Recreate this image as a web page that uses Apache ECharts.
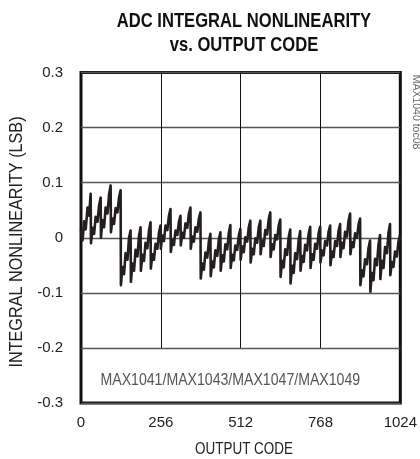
<!DOCTYPE html>
<html><head><meta charset="utf-8">
<script src="https://cdn.jsdelivr.net/npm/echarts@6/dist/echarts.min.js"></script>
<style>html,body{margin:0;padding:0;background:#fff}#c{width:420px;height:459px}</style>
</head><body><div id="c"></div>
<script>
const titleLine1 = 'ADC INTEGRAL NONLINEARITY';
const titleLine2 = 'vs. OUTPUT CODE';
const xAxisName = 'OUTPUT CODE';
const yAxisName = 'INTEGRAL NONLINEARITY (LSB)';
const partLabel = 'MAX1041/MAX1043/MAX1047/MAX1049';
const docId = 'MAX1040 toc08';
const xTickValues = [0, 256, 512, 768, 1024];
const yTickValues = [-0.3, -0.2, -0.1, 0, 0.1, 0.2, 0.3];
const codesPerTooth = 32;
const toothOffsets = [0, 5, 10, 15, 21, 26, 31];
// INL readings (LSB), 7 per 32-code tooth
const inlQ1 = [
  0.015, -0.005, 0.030, 0.015, 0.055, 0.040, 0.080,
  -0.010, 0.018, 0.007, 0.038, 0.029, 0.059, 0.073,
  0.000, 0.032, 0.019, 0.055, 0.044, 0.079, 0.095,
  0.010, 0.035, 0.025, 0.054, 0.046, 0.073, 0.086,
  -0.086, -0.053, -0.066, -0.028, -0.040, 0.000, 0.013,
  -0.080, -0.047, -0.060, -0.022, -0.034, 0.003, 0.019,
  -0.060, -0.031, -0.042, -0.009, -0.019, 0.013, 0.028,
  -0.056, -0.030, -0.040, -0.011, -0.020, 0.009, 0.022
];
const inlQ2 = [
  -0.020, 0.004, -0.006, 0.022, 0.014, 0.040, 0.052,
  -0.026, -0.004, -0.013, 0.013, 0.005, 0.029, 0.040,
  -0.014, 0.009, 0.000, 0.026, 0.018, 0.044, 0.055,
  -0.020, 0.002, -0.007, 0.019, 0.011, 0.035, 0.046,
  -0.074, -0.047, -0.058, -0.027, -0.036, -0.007, 0.007,
  -0.070, -0.043, -0.054, -0.023, -0.033, -0.003, 0.010,
  -0.060, -0.032, -0.043, -0.012, -0.021, 0.009, 0.023,
  -0.055, -0.031, -0.041, -0.014, -0.022, 0.004, 0.016
];
const inlQ3 = [
  -0.040, -0.016, -0.026, 0.001, -0.007, 0.019, 0.031,
  -0.045, -0.020, -0.030, -0.001, -0.009, 0.019, 0.031,
  -0.030, -0.005, -0.015, 0.014, 0.006, 0.034, 0.046,
  -0.035, -0.012, -0.021, 0.005, -0.003, 0.022, 0.033,
  -0.071, -0.042, -0.054, -0.021, -0.031, 0.001, 0.015,
  -0.083, -0.051, -0.064, -0.028, -0.039, -0.004, 0.012,
  -0.060, -0.033, -0.044, -0.013, -0.023, 0.007, 0.020,
  -0.055, -0.030, -0.040, -0.011, -0.020, 0.008, 0.020
];
const inlQ4 = [
  -0.045, -0.023, -0.032, -0.006, -0.014, 0.011, 0.022,
  -0.050, -0.025, -0.035, -0.006, -0.015, 0.013, 0.025,
  -0.035, -0.009, -0.019, 0.011, 0.002, 0.031, 0.044,
  -0.030, -0.008, -0.017, 0.008, 0.000, 0.024, 0.035,
  -0.086, -0.059, -0.070, -0.039, -0.048, -0.019, -0.005,
  -0.098, -0.064, -0.077, -0.038, -0.050, -0.012, 0.005,
  -0.075, -0.042, -0.055, -0.017, -0.028, 0.009, 0.025,
  -0.068, -0.044, -0.053, -0.025, -0.034, -0.007, 0.005
];

const inl = inlQ1.concat(inlQ2, inlQ3, inlQ4);
const seriesData = inl.map((v, i) => {
  const tooth = Math.floor(i / toothOffsets.length);
  const code = tooth * codesPerTooth + toothOffsets[i % toothOffsets.length];
  return [code, v];
});

const FONT = "'Liberation Sans', Arial, sans-serif";
const chart = echarts.init(document.getElementById('c'), null, {renderer: 'canvas'});
const gridLinesV = xTickValues.slice(1, -1).map(x => [{coord: [x, yTickValues[yTickValues.length - 1]]}, {coord: [x, yTickValues[1]]}]);

chart.setOption({
  animation: false,
  backgroundColor: '#fff',
  grid: {left: 81, right: 10.5, top: 72.5, bottom: 56, show: true, borderColor: '#111', borderWidth: 3, backgroundColor: 'transparent'},
  xAxis: {
    type: 'value', min: 0, max: 1024, interval: 256,
    axisLine: {show: false},
    axisTick: {show: true, inside: true, length: 6, lineStyle: {color: '#111', width: 1}},
    splitLine: {show: false},
    axisLabel: {fontFamily: FONT, fontSize: 15, color: '#222', margin: 12,
      formatter: v => xTickValues.includes(v) ? String(v) : ''}
  },
  yAxis: {
    type: 'value', min: -0.3, max: 0.3, interval: 0.1,
    axisLine: {show: false}, axisTick: {show: false},
    splitLine: {show: true, lineStyle: {color: '#555', width: 1.3}},
    axisLabel: {fontFamily: FONT, fontSize: 15, color: '#222', margin: 18,
      formatter: v => { const r = Math.round(v * 10) / 10; return r === 0 ? '0' : r.toFixed(1); }}
  },
  graphic: [
    {type: 'text', x: 244, y: 21, scaleX: 0.79,
      style: {text: titleLine1, fontFamily: FONT, fontWeight: 'bold', fontSize: 21, fill: '#111', textAlign: 'center', textVerticalAlign: 'middle'}},
    {type: 'text', x: 244, y: 45, scaleX: 0.79,
      style: {text: titleLine2, fontFamily: FONT, fontWeight: 'bold', fontSize: 21, fill: '#111', textAlign: 'center', textVerticalAlign: 'middle'}},
    {type: 'text', x: 17, y: 242, rotation: Math.PI / 2, scaleX: 0.9,
      style: {text: yAxisName, fontFamily: FONT, fontSize: 18, fill: '#222', textAlign: 'center', textVerticalAlign: 'middle'}},
    {type: 'text', x: 244, y: 450, scaleX: 0.84,
      style: {text: xAxisName, fontFamily: FONT, fontSize: 16, fill: '#222', textAlign: 'center', textVerticalAlign: 'middle'}},
    {type: 'text', x: 100.5, y: 380, scaleX: 0.83,
      style: {text: partLabel, fontFamily: FONT, fontSize: 17, fill: '#555', textAlign: 'left', textVerticalAlign: 'middle'}},
    {type: 'text', x: 416, y: 112, rotation: -Math.PI / 2,
      style: {text: docId, fontFamily: FONT, fontSize: 10.5, fill: '#666', textAlign: 'center', textVerticalAlign: 'middle'}}
  ],
  series: [{
    type: 'line', data: seriesData, showSymbol: false, symbol: 'none',
    lineStyle: {color: '#231f20', width: 2.6, join: 'round'}, z: 5,
    markLine: {silent: true, symbol: 'none', label: {show: false},
      lineStyle: {color: '#111', width: 1, type: 'solid'}, data: gridLinesV}
  }]
});
</script></body></html>
